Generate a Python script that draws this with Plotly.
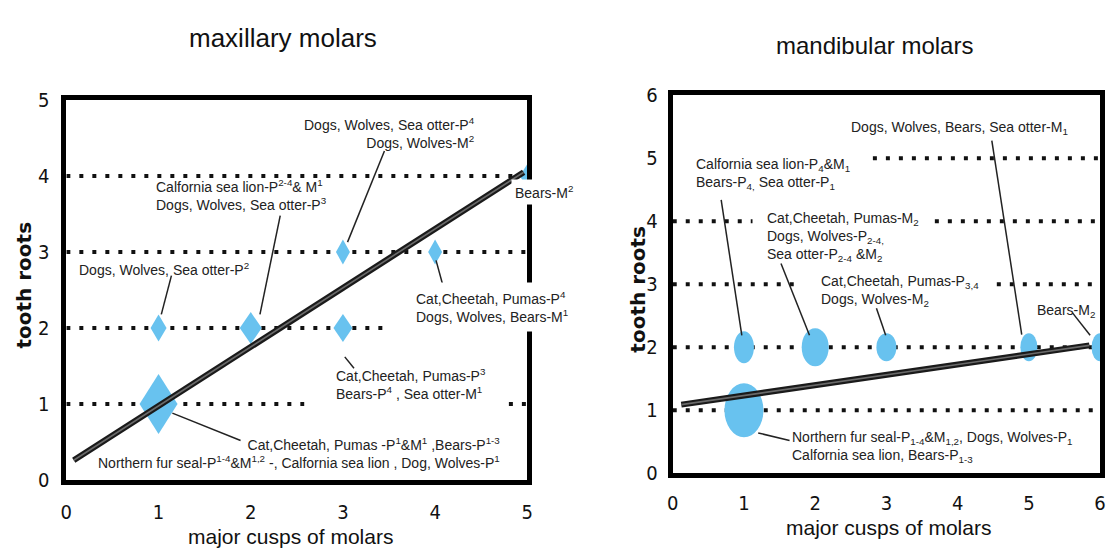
import plotly.graph_objects as go

W, H = 1114, 558

# ---------------- data ----------------
# maxillary molars: (major cusps, tooth roots)
max_cusps = [1, 1, 2, 3, 3, 4, 5]
max_roots = [1, 2, 2, 2, 3, 3, 4]
max_labels = [
    "Cat,Cheetah, Pumas -P<sup>1</sup>&M<sup>1</sup> ,Bears-P<sup>1-3</sup><br>"
    "Northern fur seal-P<sup>1-4</sup>&M<sup>1,2</sup> -, Calfornia sea lion , Dog, Wolves-P<sup>1</sup>",
    "Dogs, Wolves, Sea otter-P<sup>2</sup>",
    "Calfornia sea lion-P<sup>2-4</sup>& M<sup>1</sup><br>Dogs, Wolves, Sea otter-P<sup>3</sup>",
    "Cat,Cheetah, Pumas-P<sup>3</sup><br>Bears-P<sup>4</sup> , Sea otter-M<sup>1</sup>",
    "Dogs, Wolves, Sea otter-P<sup>4</sup><br>Dogs, Wolves-M<sup>2</sup>",
    "Cat,Cheetah, Pumas-P<sup>4</sup><br>Dogs, Wolves, Bears-M<sup>1</sup>",
    "Bears-M<sup>2</sup>",
]
max_fit_x = [0.08, 4.96]
max_fit_y = [0.26, 4.05]

# mandibular molars
man_cusps = [1, 1, 2, 3, 5, 6]
man_roots = [1, 2, 2, 2, 2, 2]
man_labels = [
    "Northern fur seal-P<sub>1-4</sub>&M<sub>1,2</sub>, Dogs, Wolves-P<sub>1</sub><br>"
    "Calfornia sea lion, Bears-P<sub>1-3</sub>",
    "Calfornia sea lion-P<sub>4</sub>&M<sub>1</sub><br>Bears-P<sub>4,</sub> Sea otter-P<sub>1</sub>",
    "Cat,Cheetah, Pumas-M<sub>2</sub><br>Dogs, Wolves-P<sub>2-4,</sub><br>Sea otter-P<sub>2-4</sub> &M<sub>2</sub>",
    "Cat,Cheetah, Pumas-P<sub>3,4</sub><br>Dogs, Wolves-M<sub>2</sub>",
    "Dogs, Wolves, Bears, Sea otter-M<sub>1</sub>",
    "Bears-M<sub>2</sub>",
]
man_fit_x = [0.12, 5.85]
man_fit_y = [1.09, 2.03]

max_x_ticks = ["0", "1", "2", "3", "4", "5"]
max_y_ticks = ["0", "1", "2", "3", "4", "5"]
man_x_ticks = ["0", "1", "2", "3", "4", "5", "6"]
man_y_ticks = ["0", "1", "2", "3", "4", "5", "6"]

titles = ["maxillary molars", "mandibular molars"]
x_title = "major cusps of molars"
y_title = "tooth roots"

# ---------------- style / layout ----------------
GLYPH = "#68c2ef"
max_glyph_px = [(38, 60), (16, 27), (22, 32), (19, 28), (14, 25), (14, 25), (15, 24)]
man_glyph_px = [(39, 54), (20, 32), (27, 38), (20, 28), (17, 28), (17, 28)]

# label placement: (x, y, xanchor, align, white background pad or None)
max_label_pos = [
    (4.72, 0.36, "right", "right", None),
    (0.12, 2.77, "left", "left", None),
    (0.955, 3.75, "left", "left", None),
    (2.90, 1.26, "left", "left", None),
    (4.45, 4.56, "right", "right", None),
    (3.72, 2.28, "left", "left", 6),
    (4.82, 3.79, "left", "left", 3),
]
# leader lines: (tail x, tail y, head x, head y)
max_leaders = [
    (1.89, 0.52, 1.15, 0.88),
    (1.14, 2.69, 1.03, 2.18),
    (2.32, 3.48, 2.10, 2.18),
    (3.12, 1.47, 3.02, 1.62),
    (3.45, 4.33, 3.05, 3.13),
    (4.10, 2.49, 4.01, 2.89),
    None,
]
man_label_pos = [
    (1.64, 0.42, "left", "left", None),
    (0.30, 4.75, "left", "left", None),
    (1.30, 3.75, "left", "left", None),
    (2.06, 2.89, "left", "left", None),
    (2.47, 5.48, "left", "left", None),
    (5.09, 2.58, "left", "left", None),
]
man_leaders = [
    (1.64, 0.52, 1.20, 0.64),
    (0.68, 4.34, 0.97, 2.19),
    (1.52, 3.33, 1.92, 2.19),
    (2.86, 2.62, 2.99, 2.19),
    (4.48, 5.28, 4.90, 2.20),
    (5.61, 2.55, 5.86, 2.19),
]
# dotted reference lines: (y, x0, x1)
max_dots = [(4, 0, 5), (3, 0, 5), (2, 0, 3.45), (1, 0, 2.58), (1, 4.8, 5)]
man_dots = [(5, 2.81, 6), (4, 0, 1.12), (4, 3.68, 6), (3, 0, 1.75), (3, 4.55, 6),
            (2, 0, 6), (1, 0, 6)]


def px(x):
    return x / W


def py(y):
    return 1 - y / H


LBL_FONT = dict(family="Liberation Sans, Arial, sans-serif", size=14, color="#222")
TICK_FONT = dict(family="Liberation Sans Narrow, DejaVu Sans Condensed, Liberation Sans, sans-serif",
                 size=20, color="#111")

fig = go.Figure()

# regression lines
for xs, ys, xa, ya in [(max_fit_x, max_fit_y, "x", "y"), (man_fit_x, man_fit_y, "x2", "y2")]:
    fig.add_trace(go.Scatter(x=xs, y=ys, mode="lines", xaxis=xa, yaxis=ya,
                             line=dict(color="#1a1a1a", width=6), showlegend=False, hoverinfo="skip"))
    fig.add_trace(go.Scatter(x=xs, y=ys, mode="lines", xaxis=xa, yaxis=ya,
                             line=dict(color="#6a6a6a", width=1.6), showlegend=False, hoverinfo="skip"))

shapes = []
annotations = []

for dots, xr, yr in [(max_dots, "x", "y"), (man_dots, "x2", "y2")]:
    for (yv, x0, x1) in dots:
        shapes.append(dict(type="line", xref=xr, yref=yr, x0=x0, x1=x1, y0=yv, y1=yv,
                           layer="below", line=dict(color="#111", width=4, dash="4px,9px")))

# diamonds (maxillary)
for cx, cy, (w, h) in zip(max_cusps, max_roots, max_glyph_px):
    shapes.append(dict(type="path", xref="x", yref="y", xsizemode="pixel", ysizemode="pixel",
                       xanchor=cx, yanchor=cy, layer="below",
                       path=f"M0,{h/2} L{w/2},0 L0,{-h/2} L{-w/2},0 Z",
                       fillcolor=GLYPH, line=dict(width=0)))
# ellipses (mandibular)
for cx, cy, (w, h) in zip(man_cusps, man_roots, man_glyph_px):
    shapes.append(dict(type="circle", xref="x2", yref="y2", xsizemode="pixel", ysizemode="pixel",
                       xanchor=cx, yanchor=cy, layer="below",
                       x0=-w / 2, x1=w / 2, y0=-h / 2, y1=h / 2,
                       fillcolor=GLYPH, line=dict(width=0)))

for labels, pos, leaders, xr, yr in [(max_labels, max_label_pos, max_leaders, "x", "y"),
                                     (man_labels, man_label_pos, man_leaders, "x2", "y2")]:
    for text, (lx, ly, xanc, al, pad), ld in zip(labels, pos, leaders):
        a = dict(text=text, x=lx, y=ly, xref=xr, yref=yr, xanchor=xanc, yanchor="middle",
                 align=al, showarrow=False, font=LBL_FONT)
        if pad is not None:
            a.update(bgcolor="white", borderpad=pad)
        annotations.append(a)
        if ld is not None:
            shapes.append(dict(type="line", xref=xr, yref=yr, x0=ld[0], y0=ld[1], x1=ld[2], y1=ld[3],
                               layer="above", line=dict(color="#222", width=1.5)))

fig.update_layout(shapes=shapes)

# titles
TITLE_FONT = dict(family="Liberation Sans, Arial, sans-serif", size=26, color="#111")
TITLE_FONT2 = dict(family="Liberation Sans, Arial, sans-serif", size=24, color="#111")
AX_FONT = dict(family="Liberation Sans, Arial, sans-serif", size=21, color="#111")
YT_FONT = dict(family="DejaVu Sans, sans-serif", size=20, color="#111", weight="bold")
annotations += [
    dict(text=titles[0], x=px(280), y=py(27), xref="paper", yref="paper", showarrow=False,
         xanchor="center", yanchor="middle", font=TITLE_FONT),
    dict(text=titles[1], x=px(878), y=py(35), xref="paper", yref="paper", showarrow=False,
         xanchor="center", yanchor="middle", font=TITLE_FONT2),
    dict(text=x_title, x=px(288), y=py(548), xref="paper", yref="paper", showarrow=False,
         xanchor="center", yanchor="middle", font=AX_FONT),
    dict(text=x_title, x=px(892), y=py(539), xref="paper", yref="paper", showarrow=False,
         xanchor="center", yanchor="middle", font=AX_FONT),
    dict(text=y_title, x=px(18), y=py(285), xref="paper", yref="paper", showarrow=False,
         textangle=-90, xanchor="center", yanchor="middle", font=YT_FONT),
    dict(text=y_title, x=px(638), y=py(290), xref="paper", yref="paper", showarrow=False,
         textangle=-90, xanchor="center", yanchor="middle", font=YT_FONT),
]

axis_common = dict(showgrid=False, zeroline=False, showline=True, linecolor="#000",
                   linewidth=5, mirror=True, ticks="", tickfont=TICK_FONT, fixedrange=True)

fig.update_layout(
    width=W, height=H,
    margin=dict(l=0, r=0, t=0, b=0),
    paper_bgcolor="white", plot_bgcolor="white",
    showlegend=False,
    annotations=annotations,
    xaxis=dict(domain=[px(61), px(527)], range=[0, 5], anchor="y",
               tickvals=list(range(len(max_x_ticks))), ticktext=max_x_ticks,
               ticklabelstandoff=10, **axis_common),
    yaxis=dict(domain=[py(489), py(92)], range=[0, 5], anchor="x",
               tickvals=list(range(len(max_y_ticks))), ticktext=max_y_ticks,
               ticklabelstandoff=8, **axis_common),
    xaxis2=dict(domain=[px(674), px(1106)], range=[0, 6], anchor="y2",
                tickvals=list(range(len(man_x_ticks))), ticktext=man_x_ticks,
                ticklabelstandoff=8, **axis_common),
    yaxis2=dict(domain=[py(482), py(87)], range=[0, 6], anchor="x2",
                tickvals=list(range(len(man_y_ticks))), ticktext=man_y_ticks,
                ticklabelstandoff=6, **axis_common),
)

fig.write_html("out.html", config={"displayModeBar": False},
               post_script="document.body.style.margin='0px';document.body.style.overflow='hidden';")
